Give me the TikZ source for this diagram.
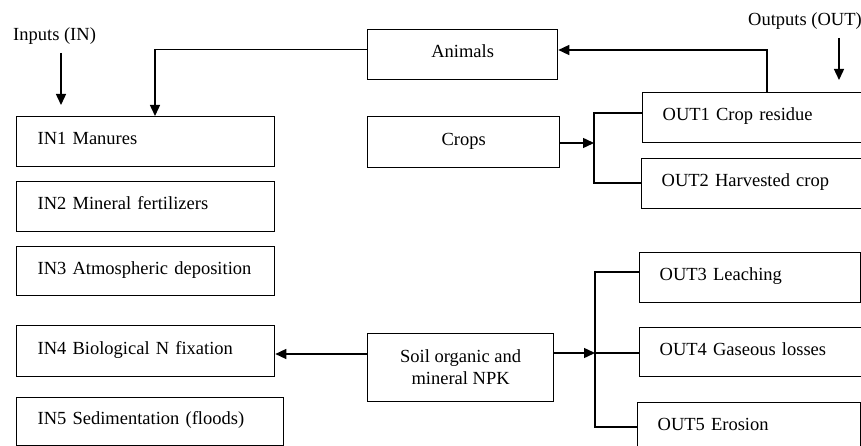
\documentclass[tikz,border=0pt]{standalone}
\usepackage{fontspec}
\setmainfont{Liberation Serif}
\usetikzlibrary{arrows.meta,calc}
\newcommand\diagfont{\fontsize{18.5pt}{22pt}\selectfont}
\begin{document}
\begin{tikzpicture}[x=1pt,y=-1pt,
 boxbase/.style={draw, line width=1.3pt, rectangle, anchor=north west, inner ysep=0pt, font=\diagfont},
 box/.style={boxbase, text height=12pt, text depth=6pt},
 lbox/.style={box, align=left, inner xsep=21pt},
 obox/.style={box, align=left, inner xsep=20pt},
 cbox/.style={box, align=center, inner xsep=0pt},
 lab/.style={inner sep=0pt, anchor=base west, font=\diagfont},
 conn/.style={line width=1.4pt},
 arr/.style={conn, -{Triangle[length=11pt,width=10pt]}},
]
\clip (0,0) rectangle (861,446);
\fill[white] (0,0) rectangle (861,446);

% labels
\node[lab] (inlab) at (13,41) {Inputs (IN)};
\node[lab] (outlab) at (748,26) {Outputs (OUT)};

% input boxes
\node[lbox, minimum width=258, minimum height=50, text width=216] (in1) at (16,116) {IN1 Manures};
\node[lbox, minimum width=258, minimum height=50, text width=216] (in2) at (16,181) {IN2 Mineral fertilizers};
\node[lbox, minimum width=258, minimum height=49, text width=216] (in3) at (16,246) {IN3 Atmospheric deposition};
\node[lbox, minimum width=258, minimum height=51, text width=216] (in4) at (16,325) {IN4 Biological N fixation};
\node[lbox, minimum width=267, minimum height=48, text width=225] (in5) at (16,397) {IN5 Sedimentation (floods)};

% central boxes
\node[cbox, minimum width=190, minimum height=50] (animals) at (367,29) {Animals};
\node[cbox, minimum width=192, minimum height=51] (crops) at (367,116) {Crops};
\node[boxbase, align=center, inner xsep=0pt, minimum width=186, minimum height=68] (soil) at (367,333) {Soil organic and\\ mineral NPK};

% output boxes
\node[obox, minimum width=240, minimum height=50, text width=200] (out1) at (642,92) {OUT1 Crop residue};
\node[obox, minimum width=240, minimum height=50, text width=200] (out2) at (641,158) {OUT2 Harvested crop};
\node[obox, minimum width=221, minimum height=50, text width=181] (out3) at (639,252) {OUT3 Leaching};
\node[obox, minimum width=240, minimum height=49, text width=200] (out4) at (639,327) {OUT4 Gaseous losses};
\node[obox, minimum width=223, minimum height=50, text width=183] (out5) at (637,402) {OUT5 Erosion};

% input / output arrows
\coordinate (inA) at (61,53);
\coordinate (inB) at (61,105);
\draw[arr] (inA) -- (inB);
\coordinate (outA) at (839,38);
\coordinate (outB) at (839,80);
\draw[arr] (outA) -- (outB);

% animals -> IN1
\coordinate (ma) at ($(animals.west)+(0,-5)$);
\draw[arr] (ma) -| ($(in1.north west)+(139,0)$);

% OUT1 -> animals
\coordinate (ra) at (767,50);
\draw[arr] (ra |- out1.north) -- (ra) -- (ra -| animals.east);
\draw[line width=2.2pt] (ra |- out1.north) -- (ra);

% crops -> OUT1, OUT2
\coordinate (cb) at (594,143);
\coordinate (cbt) at (594,113);
\coordinate (cbb) at (594,183);
\draw[arr] (crops.east |- cb) -- (cb);
\draw[conn] (out1.west |- cbt) -- (cbt) -- (cbb) -- (out2.west |- cbb);

% soil -> IN4
\coordinate (sl) at (0,354);
\draw[arr] (soil.west |- sl) -- (in4.east |- sl);

% soil -> OUT3, OUT4, OUT5
\coordinate (sb) at (595,353);
\coordinate (sbt) at (595,272);
\coordinate (sbb) at (595,427);
\draw[arr] (soil.east |- sb) -- (sb);
\draw[conn] (sb) -- (out4.west |- sb);
\draw[conn] (out3.west |- sbt) -- (sbt) -- (sbb) -- (out5.west |- sbb);
\end{tikzpicture}
\end{document}
